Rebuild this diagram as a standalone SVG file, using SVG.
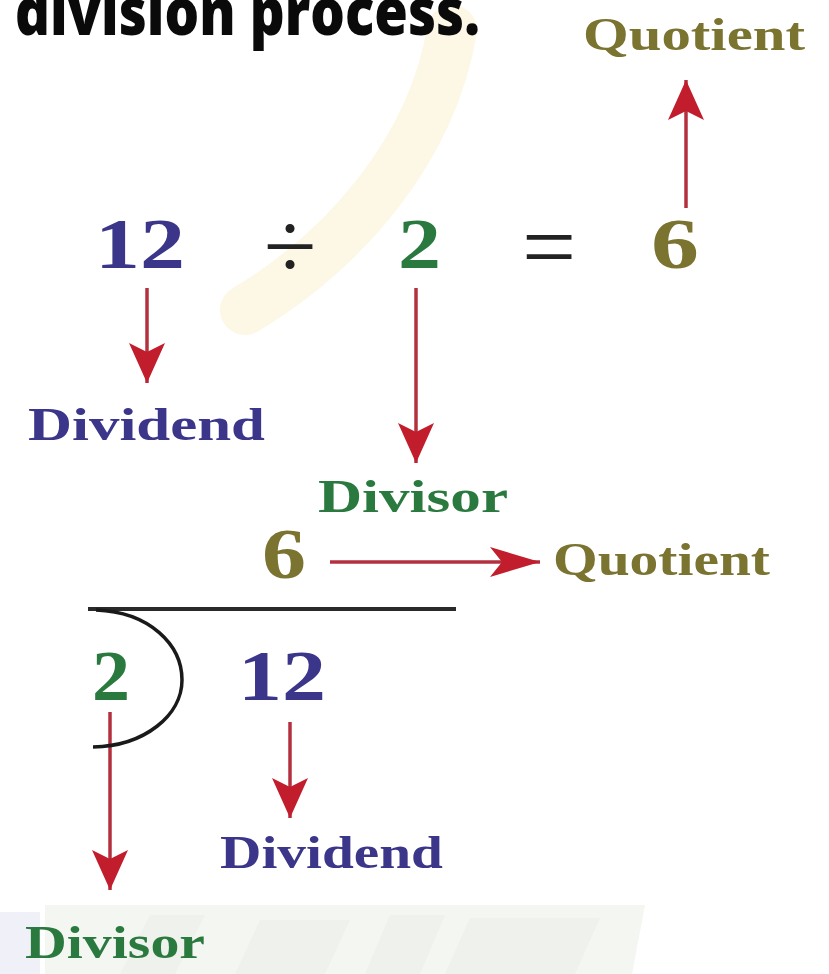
<svg xmlns="http://www.w3.org/2000/svg" width="829" height="974" viewBox="0 0 829 974">
<style>
.lbl{font-family:"Liberation Serif","Times New Roman",serif;font-weight:bold}
.num{font-family:"Liberation Serif","Times New Roman",serif;font-weight:bold;font-size:72px}
.op{font-family:"Liberation Serif","Times New Roman",serif;font-size:96px;fill:#222}
.blue{fill:#3b3689}
.green{fill:#2a7a3f}
.olive{fill:#7b7330}
.conn{stroke:#b3303f;stroke-width:3.5;fill:none}
</style>
<defs>
<marker id="ah" viewBox="0 0 40 36" refX="40" refY="18" markerWidth="40" markerHeight="36" markerUnits="userSpaceOnUse" orient="auto">
<path d="M0,0 L40,18 L0,36 L9,18 z" fill="#c21d2d"/>
</marker>
<marker id="ahr" viewBox="0 0 50 30" refX="50" refY="15" markerWidth="50" markerHeight="30" markerUnits="userSpaceOnUse" orient="auto">
<path d="M0,0 L50,15 L0,30 L12,15 z" fill="#c21d2d"/>
</marker>
</defs>
<rect width="829" height="974" fill="#ffffff"/>
<g id="watermark">
<path d="M452,30 C432,150 345,250 245,310" stroke="#fdf7e6" stroke-width="50" fill="none" stroke-linecap="round"/>
<rect x="0" y="912" width="40" height="62" fill="#f0f0f8"/>
<polygon points="45,905 645,905 632,974 45,974" fill="#f4f6f2"/>
<polygon points="150,915 205,915 175,974 120,974" fill="#eef1ec"/>
<polygon points="260,920 350,920 325,974 235,974" fill="#eef1ec"/>
<polygon points="390,915 445,915 420,974 365,974" fill="#eef1ec"/>
<polygon points="470,918 600,918 575,974 445,974" fill="#eef1ec"/>
</g>
<g id="title">
<text x="15" y="35" font-family="'Open Sans','DejaVu Sans',sans-serif" font-weight="800" font-size="66" textLength="465" lengthAdjust="spacingAndGlyphs" fill="#0a0a0a">division process.</text>
</g>
<g id="connectors">
<line class="conn" x1="686" y1="208" x2="686" y2="80" marker-end="url(#ah)"/>
<line class="conn" x1="147" y1="288" x2="147" y2="383" marker-end="url(#ah)"/>
<line class="conn" x1="416" y1="288" x2="416" y2="463" marker-end="url(#ah)"/>
<line class="conn" x1="330" y1="562" x2="540" y2="562" marker-end="url(#ahr)"/>
<line class="conn" x1="110" y1="712" x2="110" y2="890" marker-end="url(#ah)"/>
<line class="conn" x1="290" y1="722" x2="290" y2="818" marker-end="url(#ah)"/>
</g>
<g id="quotient-top"><text class="lbl olive" x="583" y="50" font-size="46" textLength="222" lengthAdjust="spacingAndGlyphs">Quotient</text></g>
<g id="eq-12"><text class="num blue" x="95" y="268" textLength="90" lengthAdjust="spacingAndGlyphs">12</text></g>
<g id="eq-div"><text class="op" x="290" y="278" text-anchor="middle">÷</text></g>
<g id="eq-2"><text class="num green" x="398" y="268" textLength="43" lengthAdjust="spacingAndGlyphs">2</text></g>
<g id="eq-eq"><text class="op" x="549" y="279" text-anchor="middle">=</text></g>
<g id="eq-6"><text class="num olive" x="651" y="268" textLength="48" lengthAdjust="spacingAndGlyphs">6</text></g>
<g id="dividend-top"><text class="lbl blue" x="28" y="440" font-size="46" textLength="237" lengthAdjust="spacingAndGlyphs">Dividend</text></g>
<g id="divisor-top"><text class="lbl green" x="318" y="512" font-size="46" textLength="190" lengthAdjust="spacingAndGlyphs">Divisor</text></g>
<g id="ld-6"><text class="num olive" x="262" y="578" font-size="66" textLength="44" lengthAdjust="spacingAndGlyphs">6</text></g>
<g id="quotient-mid"><text class="lbl olive" x="553" y="575" font-size="46" textLength="217" lengthAdjust="spacingAndGlyphs">Quotient</text></g>
<g id="bracket">
<line x1="88" y1="609" x2="456" y2="609" stroke="#2a2a2a" stroke-width="4"/>
<path d="M96,610 C150,612 182,645 182,680 C182,715 145,746 93,747" stroke="#1a1a1a" stroke-width="3.5" fill="none"/>
</g>
<g id="ld-2"><text class="num green" x="92" y="700" textLength="38" lengthAdjust="spacingAndGlyphs">2</text></g>
<g id="ld-12"><text class="num blue" x="238" y="700" textLength="88" lengthAdjust="spacingAndGlyphs">12</text></g>
<g id="dividend-bottom"><text class="lbl blue" x="220" y="868" font-size="46" textLength="223" lengthAdjust="spacingAndGlyphs">Dividend</text></g>
<g id="divisor-bottom"><text class="lbl green" x="25" y="958" font-size="46" textLength="180" lengthAdjust="spacingAndGlyphs">Divisor</text></g>
</svg>
